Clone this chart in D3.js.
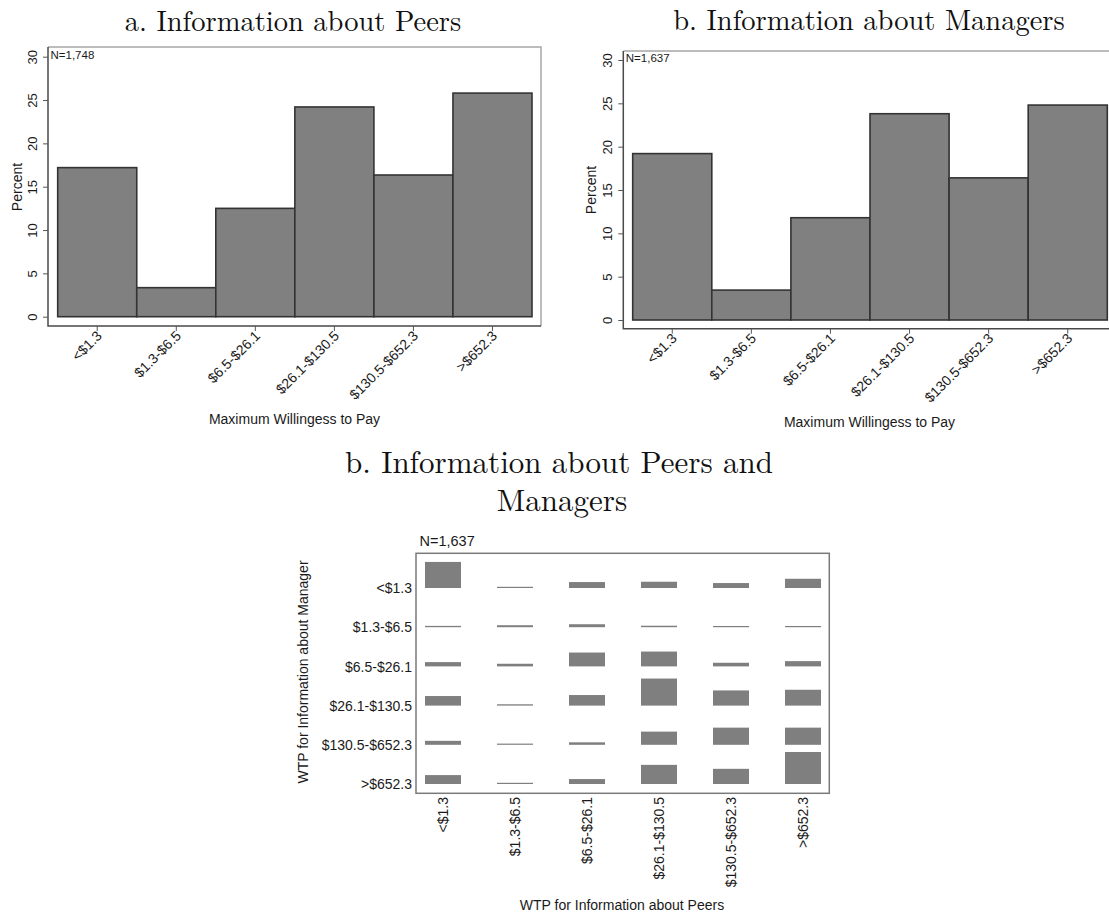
<!DOCTYPE html>
<html>
<head>
<meta charset="utf-8">
<script src="https://cdn.jsdelivr.net/npm/d3@7"></script>
<style>
  body { margin: 0; background: #fff; }
  svg { display: block; }
  .sans { font-family: "Liberation Sans", Arial, sans-serif; fill: #1a1a1a; }
  .serif { font-family: "Latin Modern Roman", "CMU Serif", "Liberation Serif", "DejaVu Serif", serif; fill: #111; }
</style>
</head>
<body>
<svg id="chart" width="1109" height="915"></svg>
<script>
(function () {

  // willingness-to-pay brackets (same for every panel)
  var wtpCats = ['<$1.3', '$1.3-$6.5', '$6.5-$26.1', '$26.1-$130.5', '$130.5-$652.3', '>$652.3']

  // percent of respondents per bracket
  var peersPct = [17.2, 3.35, 12.5, 24.2, 16.35, 25.8]
  var managersPct = [19.2, 3.45, 11.8, 23.8, 16.4, 24.8]

  var yTicks = [0, 5, 10, 15, 20, 25, 30]

  // joint distribution, rows = manager bracket, cols = peer bracket (percent of N)
  var jointPct = [
    [7.9, 0.35, 1.8, 1.9, 1.5, 2.8],
    [0.4, 0.6, 0.9, 0.45, 0.3, 0.3],
    [1.3, 0.8, 4.2, 4.5, 1.1, 1.6],
    [2.9, 0.4, 3.2, 8.2, 4.6, 4.8],
    [1.2, 0.3, 0.75, 4.0, 5.2, 5.2],
    [2.7, 0.3, 1.5, 5.8, 4.6, 9.7]
  ]

  var svg = d3.select('#chart')
  svg.append('rect').attr('width', 1109).attr('height', 915).attr('fill', '#fff')

  // one histogram panel
  function histogram(p) {
    var g = svg.append('g')

    var y = d3.scaleLinear().domain([0, 30]).range([p.y0, p.y30])
    var x = d3.scaleBand().domain(wtpCats).range([p.barL, p.barR])

    // plot region outline (light) then axes (dark)
    g.append('path')
      .attr('d', 'M' + p.left + ',' + p.top + 'H' + p.right + 'V' + p.bottom)
      .attr('fill', 'none').attr('stroke', '#a6a6a6').attr('stroke-width', 1.5)

    g.selectAll('rect.bar')
      .data(p.values)
      .enter().append('rect')
      .attr('class', 'bar')
      .attr('x', function (d, i) { return x(wtpCats[i]) })
      .attr('y', function (d) { return y(d) })
      .attr('width', x.bandwidth())
      .attr('height', function (d) { return y(0) - y(d) })
      .attr('fill', '#808080')
      .attr('stroke', '#333')
      .attr('stroke-width', 1.6)

    g.append('path')
      .attr('d', 'M' + p.left + ',' + p.top + 'V' + p.bottom + 'H' + p.right)
      .attr('fill', 'none').attr('stroke', '#4a4a4a').attr('stroke-width', 1.5)

    // y axis
    var ya = g.append('g')
      .attr('transform', 'translate(' + p.left + ',0)')
      .call(d3.axisLeft(y).tickValues(yTicks).tickSize(5).tickSizeOuter(0))
    ya.select('.domain').remove()
    ya.selectAll('line').attr('stroke', '#555')
    ya.selectAll('text')
      .attr('class', 'sans')
      .attr('x', null).attr('dy', null)
      .attr('transform', 'translate(-11.5,0) rotate(-90)')
      .attr('text-anchor', 'middle')
      .style('font-size', '13px')

    // x axis
    var xa = g.append('g')
      .attr('transform', 'translate(0,' + p.bottom + ')')
      .call(d3.axisBottom(x).tickSize(5).tickSizeOuter(0))
    xa.select('.domain').remove()
    xa.selectAll('line').attr('stroke', '#555')
    xa.selectAll('text')
      .attr('class', 'sans')
      .attr('y', null).attr('dy', null)
      .attr('transform', 'translate(3,8) rotate(-45)')
      .attr('text-anchor', 'end')
      .attr('dominant-baseline', 'middle')
      .style('font-size', '14px')

    g.append('text').attr('class', 'sans')
      .attr('transform', 'translate(' + p.ytitleX + ',' + p.ytitleY + ') rotate(-90)')
      .attr('text-anchor', 'middle').style('font-size', '14px')
      .text('Percent')

    g.append('text').attr('class', 'sans')
      .attr('x', p.xtitleX).attr('y', p.xtitleY)
      .attr('text-anchor', 'middle').style('font-size', '14px')
      .text('Maximum Willingess to Pay')

    g.append('text').attr('class', 'sans')
      .attr('x', p.left + 2.5).attr('y', p.nY)
      .style('font-size', '11.5px')
      .text(p.n)

    svg.append('text').attr('class', 'serif')
      .attr('x', p.titleX).attr('y', p.titleY)
      .attr('text-anchor', 'middle').style('font-size', '28.5px')
      .text(p.title)
  }

  histogram({
    values: peersPct, n: 'N=1,748', title: 'a. Information about Peers',
    left: 48, right: 541, top: 47, bottom: 326,
    y0: 316.7, y30: 56.7, barL: 57.7, barR: 532,
    ytitleX: 21.5, ytitleY: 187, xtitleX: 294.5, xtitleY: 423.5, nY: 59,
    titleX: 293, titleY: 30.5
  })

  histogram({
    values: managersPct, n: 'N=1,637', title: 'b. Information about Managers',
    left: 623.3, right: 1117, top: 51, bottom: 328.7,
    y0: 320, y30: 60, barL: 632.7, barR: 1107.3,
    ytitleX: 596, ytitleY: 190, xtitleX: 869.5, xtitleY: 426.5, nY: 62,
    titleX: 869, titleY: 30
  })

  // joint panel
  var jg = svg.append('g')
  var colX = d3.scalePoint().domain(wtpCats).range([443, 803])
  var rowY = d3.scalePoint().domain(wtpCats).range([588, 784])
  var hScale = d3.scaleLinear().domain([0, 10]).range([0, 33])

  jg.append('rect')
    .attr('x', 416).attr('y', 553.3).attr('width', 413.3).attr('height', 240)
    .attr('fill', 'none').attr('stroke', '#7a7a7a').attr('stroke-width', 1.5)

  var cells = []
  jointPct.forEach(function (row, r) {
    row.forEach(function (v, c) { cells.push({ r: wtpCats[r], c: wtpCats[c], v: v }) })
  })

  jg.selectAll('rect.cell')
    .data(cells)
    .enter().append('rect')
    .attr('class', 'cell')
    .attr('x', function (d) { return colX(d.c) - 18 })
    .attr('width', 36)
    .attr('y', function (d) { return rowY(d.r) - Math.max(1.2, hScale(d.v)) })
    .attr('height', function (d) { return Math.max(1.2, hScale(d.v)) })
    .attr('fill', '#7f7f7f')

  jg.selectAll('text.rowlab')
    .data(wtpCats)
    .enter().append('text')
    .attr('class', 'sans')
    .attr('x', 412)
    .attr('y', function (d) { return rowY(d) + 1.5 })
    .attr('text-anchor', 'end').attr('dominant-baseline', 'middle')
    .style('font-size', '14px')
    .text(function (d) { return d })

  jg.selectAll('text.collab')
    .data(wtpCats)
    .enter().append('text')
    .attr('class', 'sans')
    .attr('transform', function (d) { return 'translate(' + (colX(d) + 5) + ',797) rotate(-90)' })
    .attr('text-anchor', 'end')
    .style('font-size', '14px')
    .text(function (d) { return d })

  jg.append('text').attr('class', 'sans')
    .attr('transform', 'translate(308,672) rotate(-90)')
    .attr('text-anchor', 'middle').style('font-size', '14px')
    .text('WTP for Information about Manager')

  jg.append('text').attr('class', 'sans')
    .attr('x', 622).attr('y', 910)
    .attr('text-anchor', 'middle').style('font-size', '14px')
    .text('WTP for Information about Peers')

  jg.append('text').attr('class', 'sans')
    .attr('x', 419.5).attr('y', 546)
    .style('font-size', '14.5px')
    .text('N=1,637')

  svg.append('text').attr('class', 'serif')
    .attr('x', 559).attr('y', 472.5)
    .attr('text-anchor', 'middle').style('font-size', '31px')
    .text('b. Information about Peers and')
  svg.append('text').attr('class', 'serif')
    .attr('x', 562).attr('y', 511)
    .attr('text-anchor', 'middle').style('font-size', '31px')
    .text('Managers')

})()
</script>
</body>
</html>
